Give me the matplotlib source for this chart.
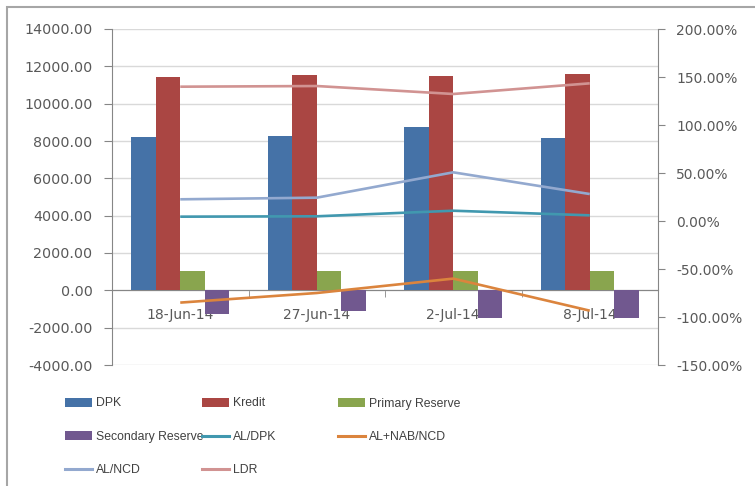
import matplotlib
matplotlib.use("Agg")
import matplotlib.pyplot as plt
from matplotlib.patches import Patch, Rectangle
from matplotlib.lines import Line2D
from matplotlib.ticker import FuncFormatter, FixedLocator
import numpy as np

plt.rcParams['font.family'] = ['DejaVu Sans']

# data
dates = ['18-Jun-14', '27-Jun-14', '2-Jul-14', '8-Jul-14']
dpk = [8230, 8285, 8730, 8175]
kredit = [11445, 11520, 11465, 11570]
primary_reserve = [1035, 1035, 1050, 1050]
secondary_reserve = [-1285, -1110, -1470, -1470]

# ratios in percent (right axis)
al_dpk = [4.5, 4.9, 10.7, 5.9]
al_nab_ncd = [-85.0, -75.0, -60.0, -93.4]
al_ncd = [22.6, 24.3, 50.7, 28.1]
ldr = [139.9, 140.6, 132.3, 143.4]

bar_colors = ['#4572A7', '#AA4643', '#89A54E', '#71588F']
line_colors = {'AL/DPK': '#4198AF', 'AL+NAB/NCD': '#DB843D',
               'AL/NCD': '#93A9CF', 'LDR': '#D19392'}
tick_col = '#595959'
axis_col = '#868686'

fig = plt.figure(figsize=(7.55, 4.86), dpi=100)
ax = fig.add_axes([112 / 755, 1 - 365 / 486, (658 - 112) / 755, (365 - 29) / 486])
x = np.arange(len(dates))
w = 0.18

bar_series = [('DPK', dpk), ('Kredit', kredit),
              ('Primary Reserve', primary_reserve),
              ('Secondary Reserve', secondary_reserve)]
for i, (name, vals) in enumerate(bar_series):
    ax.bar(x + (i - 1.5) * w, vals, w, color=bar_colors[i], zorder=3, linewidth=0)

ax.set_xlim(-0.5, 3.5)
ax.set_ylim(-4000, 14000)
ax.set_yticks(np.arange(-4000, 14001, 2000))
ax.yaxis.set_major_formatter(FuncFormatter(lambda v, p: f'{v:.2f}'))
ax.yaxis.grid(True, color='#d9d9d9', linewidth=1, zorder=0)
ax.set_axisbelow(True)

# category axis sits on zero
ax.spines['bottom'].set_position(('data', 0))
ax.spines['bottom'].set_color(axis_col)
ax.spines['left'].set_color(axis_col)
ax.spines['top'].set_visible(False)
ax.spines['right'].set_visible(False)
ax.set_xticks(x)
ax.set_xticklabels(dates)
ax.xaxis.set_minor_locator(FixedLocator([0.5, 1.5, 2.5]))
ax.tick_params(axis='x', which='major', length=0, pad=13, labelsize=10, labelcolor=tick_col)
ax.tick_params(axis='x', which='minor', length=5, color=axis_col)
ax.tick_params(axis='y', length=6, color=axis_col, pad=8, labelsize=10.3, labelcolor=tick_col)

ax2 = ax.twinx()
line_series = [('AL/DPK', al_dpk), ('AL+NAB/NCD', al_nab_ncd),
               ('AL/NCD', al_ncd), ('LDR', ldr)]
for name, vals in line_series:
    ax2.plot(x, vals, color=line_colors[name], linewidth=1.9, solid_capstyle='butt')
ax2.set_ylim(-150, 200)
ax2.set_yticks(np.arange(-150, 201, 50))
ax2.yaxis.set_major_formatter(FuncFormatter(lambda v, p: f'{v:.2f}%'))
for s in ['top', 'left', 'bottom']:
    ax2.spines[s].set_visible(False)
ax2.spines['right'].set_color(axis_col)
ax2.tick_params(axis='y', length=5, color=axis_col, pad=8, labelsize=10, labelcolor=tick_col)

# legend laid out as a fixed 3-column grid below the plot
def bar_h(i):
    return Patch(facecolor=bar_colors[i], edgecolor='none')

def line_h(name):
    return Line2D([], [], color=line_colors[name], linewidth=2.2)

columns = [
    (65, [bar_h(0), bar_h(3), line_h('AL/NCD')], ['DPK', 'Secondary Reserve', 'AL/NCD']),
    (202, [bar_h(1), line_h('AL/DPK'), line_h('LDR')], ['Kredit', 'AL/DPK', 'LDR']),
    (338, [bar_h(2), line_h('AL+NAB/NCD')], ['Primary Reserve', 'AL+NAB/NCD']),
]
for xpos, handles, labels in columns:
    fig.legend(handles, labels, loc='upper left', bbox_to_anchor=(xpos / 755, 1 - 397.5 / 486),
               frameon=False, prop={'family': 'Liberation Sans', 'size': 8.8},
               borderpad=0, borderaxespad=0,
               handlelength=2.2, handleheight=0.75, handletextpad=0.35,
               labelspacing=1.75, labelcolor='#404040')

# outer chart frame (only top and left edges fall inside the image)
fig.add_artist(Rectangle((7 / 755, -0.1), 1.2, 0.1 + (1 - 7 / 486),
                         transform=fig.transFigure, fill=False,
                         edgecolor='#a6a6a6', linewidth=1.5))

fig.savefig('out.png', dpi=100)
